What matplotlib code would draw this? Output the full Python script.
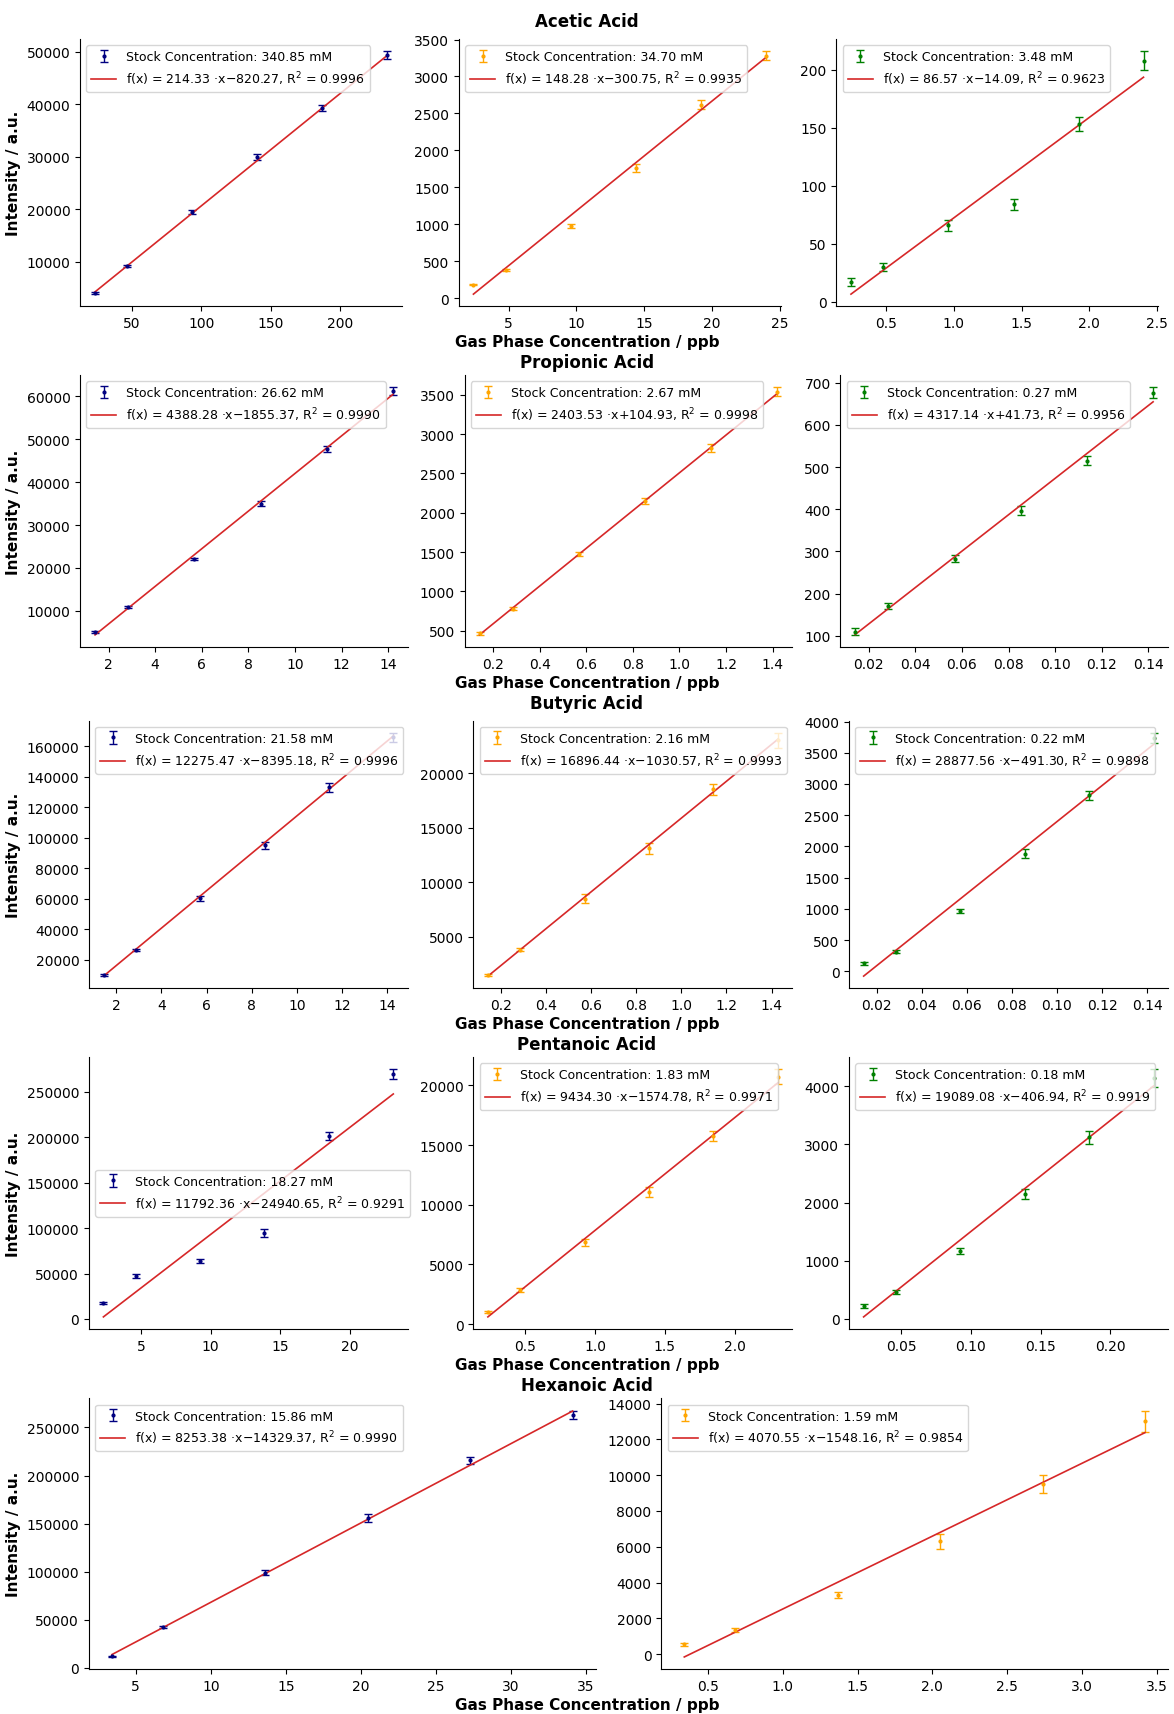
import numpy as np
import matplotlib
matplotlib.use("Agg")
import matplotlib.pyplot as plt
from matplotlib.ticker import MaxNLocator

acids = ["Acetic Acid", "Propionic Acid", "Butyric Acid", "Pentanoic Acid", "Hexanoic Acid"]
colors = ["navy", "orange", "green"]

# gas phase concentration (ppb), one list per panel
conc = [
    [[23.4, 46.8, 93.6, 140.4, 187.2, 234.0],
     [2.4, 4.8, 9.6, 14.4, 19.2, 24.0],
     [0.24, 0.48, 0.96, 1.44, 1.92, 2.40]],
    [[1.42, 2.84, 5.68, 8.52, 11.36, 14.2],
     [0.142, 0.284, 0.568, 0.852, 1.136, 1.42],
     [0.0142, 0.0284, 0.0568, 0.0852, 0.1136, 0.142]],
    [[1.43, 2.86, 5.71, 8.57, 11.42, 14.28],
     [0.143, 0.286, 0.571, 0.857, 1.142, 1.428],
     [0.0143, 0.0286, 0.0571, 0.0857, 0.1142, 0.1428]],
    [[2.31, 4.62, 9.24, 13.86, 18.48, 23.1],
     [0.231, 0.462, 0.924, 1.386, 1.848, 2.31],
     [0.0231, 0.0462, 0.0924, 0.1386, 0.1848, 0.231]],
    [[3.41, 6.82, 13.64, 20.46, 27.28, 34.1],
     [0.342, 0.684, 1.368, 2.052, 2.736, 3.42]],
]

intensity = [
    [[4000, 9200, 19500, 30000, 39300, 49400],
     [185, 385, 980, 1760, 2620, 3280],
     [17, 30, 66, 84, 153, 208]],
    [[5100, 10800, 22100, 35000, 47700, 61200],
     [465, 780, 1470, 2150, 2820, 3540],
     [110, 170, 283, 397, 515, 676]],
    [[10000, 26500, 60300, 95000, 133200, 166000],
     [1500, 3800, 8500, 13100, 18500, 23000],
     [125, 310, 960, 1880, 2820, 3740]],
    [[17500, 47000, 64000, 94500, 201000, 269000],
     [1000, 2850, 6850, 11050, 15750, 20750],
     [220, 460, 1170, 2150, 3120, 4140]],
    [[12000, 42000, 99000, 156000, 216000, 263000],
     [550, 1350, 3300, 6300, 9500, 13000]],
]

errors = [
    [[200, 250, 400, 600, 600, 700],
     [10, 15, 30, 50, 60, 60],
     [3.5, 3.5, 4.5, 4.5, 6, 8]],
    [[300, 200, 300, 600, 700, 900],
     [20, 20, 25, 35, 50, 55],
     [8, 7, 8, 10, 11, 13]],
    [[700, 700, 1500, 2200, 2800, 3000],
     [100, 150, 400, 500, 500, 700],
     [25, 25, 35, 70, 70, 80]],
    [[1000, 2000, 2000, 4500, 4500, 5500],
     [100, 150, 300, 400, 400, 600],
     [30, 40, 50, 90, 110, 150]],
    [[700, 1000, 2500, 4000, 3500, 4500],
     [80, 120, 150, 400, 500, 600]],
]

stock = [
    ["340.85", "34.70", "3.48"],
    ["26.62", "2.67", "0.27"],
    ["21.58", "2.16", "0.22"],
    ["18.27", "1.83", "0.18"],
    ["15.86", "1.59"],
]

slopes = [
    [214.33, 148.28, 86.57],
    [4388.28, 2403.53, 4317.14],
    [12275.47, 16896.44, 28877.56],
    [11792.36, 9434.30, 19089.08],
    [8253.38, 4070.55],
]
intercepts = [
    [-820.27, -300.75, -14.09],
    [-1855.37, 104.93, 41.73],
    [-8395.18, -1030.57, -491.30],
    [-24940.65, -1574.78, -406.94],
    [-14329.37, -1548.16],
]
r2 = [
    ["0.9996", "0.9935", "0.9623"],
    ["0.9990", "0.9998", "0.9956"],
    ["0.9996", "0.9993", "0.9898"],
    ["0.9291", "0.9971", "0.9919"],
    ["0.9990", "0.9854"],
]


def fit_label(m, b, r):
    sign = "+" if b >= 0 else "\u2212"
    return f"f(x) = {m:.2f} \u00b7x{sign}{abs(b):.2f}, R$^2$ = {r}"


fig = plt.figure(figsize=(11.74, 17.15), dpi=100, layout="constrained")
fig.get_layout_engine().set(h_pad=0.02, w_pad=0.06, hspace=0.0, wspace=0.02)
# first (empty) strip only leaves a little room above the top row
subfigs = fig.subfigures(6, 1, hspace=0.0, height_ratios=[11, 341, 341, 341, 341, 340])[1:]

for i, sf in enumerate(subfigs):
    n = len(conc[i])
    axes = sf.subplots(1, n)
    sf.suptitle(acids[i], fontsize=12, fontweight="bold")
    sf.supxlabel("Gas Phase Concentration / ppb", fontsize=11, fontweight="bold")
    for j, ax in enumerate(axes):
        x = np.array(conc[i][j])
        y = np.array(intensity[i][j])
        eb = ax.errorbar(x, y, yerr=errors[i][j], fmt=".", color=colors[j],
                         ms=4, capsize=3, elinewidth=1, capthick=1,
                         label=f"Stock Concentration: {stock[i][j]} mM")
        xf = np.array([x.min(), x.max()])
        ln, = ax.plot(xf, slopes[i][j] * xf + intercepts[i][j], color="tab:red", lw=1.2,
                      label=fit_label(slopes[i][j], intercepts[i][j], r2[i][j]))
        loc = "center left" if (i == 3 and j == 0) else "upper left"
        leg = ax.legend(handles=[eb, ln], loc=loc, fontsize=9)
        leg.set_in_layout(False)
        ax.xaxis.set_major_locator(MaxNLocator(nbins=8, steps=[1, 2, 2.5, 5, 10]))
        ax.spines["top"].set_visible(False)
        ax.spines["right"].set_visible(False)
        ax.tick_params(labelsize=10)
        if j == 0:
            ax.set_ylabel("Intensity / a.u.", fontsize=11, fontweight="bold")

fig.savefig("out.png", dpi=100)
